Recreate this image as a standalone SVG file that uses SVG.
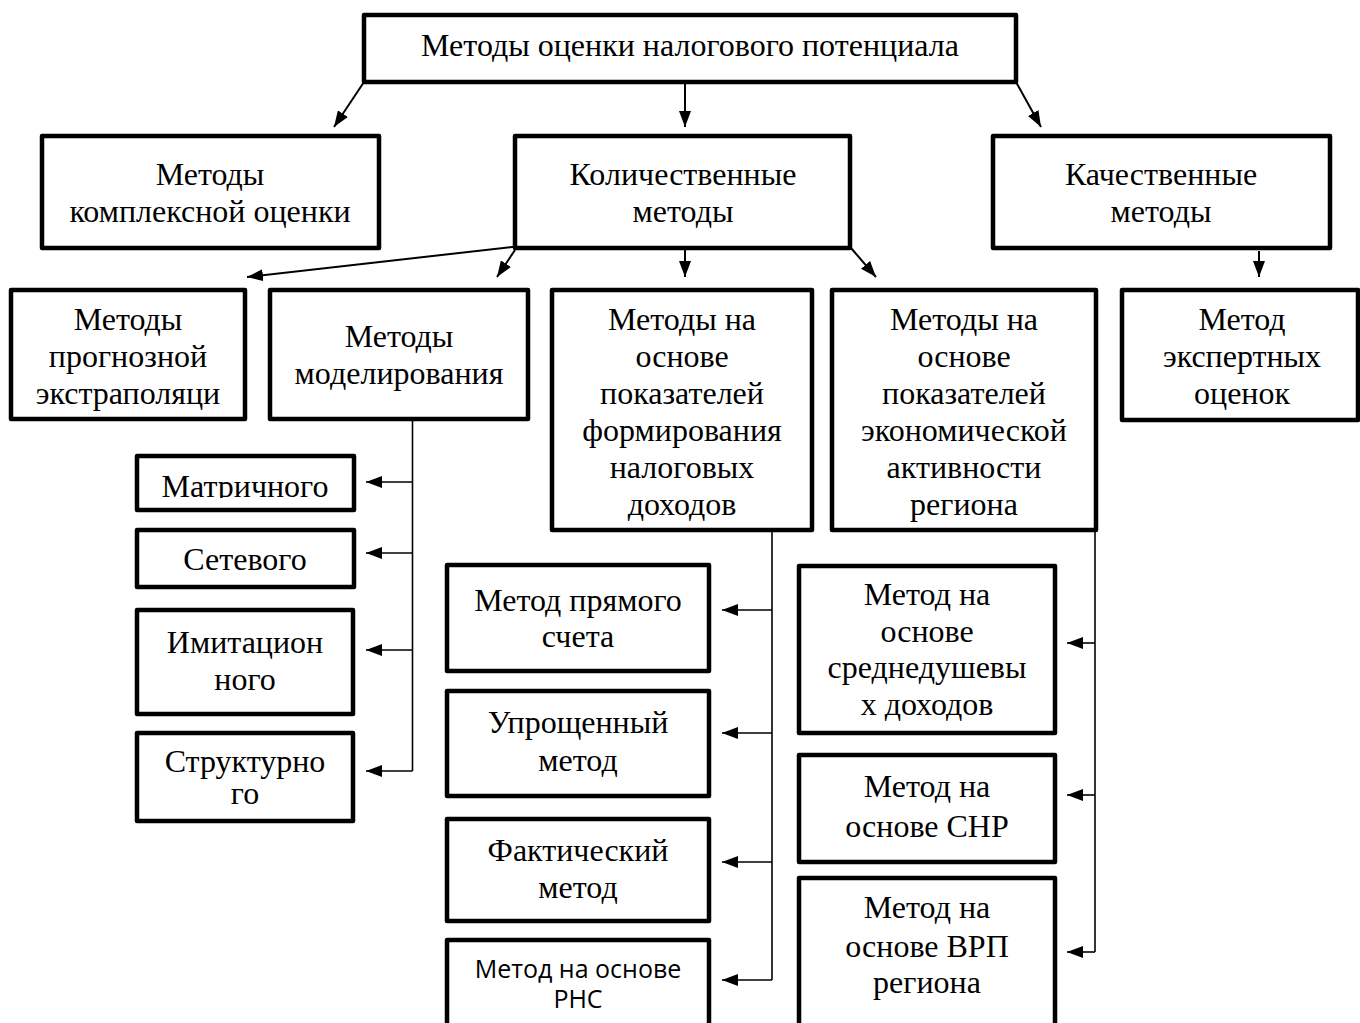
<svg xmlns="http://www.w3.org/2000/svg" width="1360" height="1023" viewBox="0 0 1360 1023">
<style>
.box{fill:#fff;stroke:#000;stroke-width:4.5;stroke-linejoin:round}
.t{font-family:"Liberation Serif","Times New Roman",serif;font-size:32px;fill:#000;text-anchor:middle}
.s{font-family:"Open Sans","Noto Sans",sans-serif;font-size:25px;fill:#000;text-anchor:middle}
.c{fill:none;stroke:#000;stroke-width:2}
.b{fill:none;stroke:#000;stroke-width:1.6}
</style>
<defs>
<marker id="ah" viewBox="0 0 16 12" refX="16" refY="6" markerWidth="16" markerHeight="12" markerUnits="userSpaceOnUse" orient="auto">
<path d="M0,0 L16,6 L0,12 z" fill="#000"/>
</marker>
<clipPath id="clipM"><rect x="130" y="450" width="230" height="48"/></clipPath>
</defs>
<rect width="1360" height="1023" fill="#fff"/>

<g id="connectors">
<line class="c" x1="364" y1="82" x2="334" y2="127" marker-end="url(#ah)"/>
<line class="c" x1="685" y1="84" x2="685" y2="127" marker-end="url(#ah)"/>
<line class="c" x1="1016" y1="82" x2="1041" y2="127" marker-end="url(#ah)"/>
<line class="c" x1="521" y1="246" x2="247" y2="277" marker-end="url(#ah)"/>
<line class="c" x1="515" y1="250" x2="497" y2="277" marker-end="url(#ah)"/>
<line class="c" x1="685" y1="250" x2="685" y2="277" marker-end="url(#ah)"/>
<line class="c" x1="851" y1="248" x2="876" y2="277" marker-end="url(#ah)"/>
<line class="c" x1="1259" y1="251" x2="1259" y2="277" marker-end="url(#ah)"/>
<path class="b" d="M412.5,420 V771"/>
<line class="b" x1="412.5" y1="482" x2="366" y2="482" marker-end="url(#ah)"/>
<line class="b" x1="412.5" y1="553" x2="366" y2="553" marker-end="url(#ah)"/>
<line class="b" x1="412.5" y1="650" x2="366" y2="650" marker-end="url(#ah)"/>
<line class="b" x1="412.5" y1="771" x2="366" y2="771" marker-end="url(#ah)"/>
<path class="b" d="M772,530 V980"/>
<line class="b" x1="772" y1="610" x2="722" y2="610" marker-end="url(#ah)"/>
<line class="b" x1="772" y1="733" x2="722" y2="733" marker-end="url(#ah)"/>
<line class="b" x1="772" y1="862" x2="722" y2="862" marker-end="url(#ah)"/>
<line class="b" x1="772" y1="980" x2="722" y2="980" marker-end="url(#ah)"/>
<path class="b" d="M1095,530 V952"/>
<line class="b" x1="1095" y1="643" x2="1067" y2="643" marker-end="url(#ah)"/>
<line class="b" x1="1095" y1="795" x2="1067" y2="795" marker-end="url(#ah)"/>
<line class="b" x1="1095" y1="952" x2="1067" y2="952" marker-end="url(#ah)"/>
</g>

<g id="root">
<rect class="box" x="364" y="15" width="652" height="67"/>
<text class="t" x="690" y="56">Методы оценки налогового потенциала</text>
</g>
<g id="complex">
<rect class="box" x="42" y="136" width="337" height="112"/>
<text class="t" x="210" y="185">Методы</text>
<text class="t" x="210" y="222">комплексной оценки</text>
</g>
<g id="quant">
<rect class="box" x="515" y="136" width="335" height="112"/>
<text class="t" x="683" y="185">Количественные</text>
<text class="t" x="683" y="222">методы</text>
</g>
<g id="qual">
<rect class="box" x="993" y="136" width="337" height="112"/>
<text class="t" x="1161" y="185">Качественные</text>
<text class="t" x="1161" y="222">методы</text>
</g>
<g id="extrap">
<rect class="box" x="11" y="290" width="234" height="129"/>
<text class="t" x="128" y="330">Методы</text>
<text class="t" x="128" y="367">прогнозной</text>
<text class="t" x="128" y="404">экстраполяци</text>
</g>
<g id="model">
<rect class="box" x="270" y="290" width="258" height="129"/>
<text class="t" x="399" y="347">Методы</text>
<text class="t" x="399" y="384">моделирования</text>
</g>
<g id="taxincome">
<rect class="box" x="552" y="290" width="260" height="240"/>
<text class="t" x="682" y="330">Методы на</text>
<text class="t" x="682" y="367">основе</text>
<text class="t" x="682" y="404">показателей</text>
<text class="t" x="682" y="441">формирования</text>
<text class="t" x="682" y="478">налоговых</text>
<text class="t" x="682" y="515">доходов</text>
</g>
<g id="econ">
<rect class="box" x="832" y="290" width="264" height="240"/>
<text class="t" x="964" y="330">Методы на</text>
<text class="t" x="964" y="367">основе</text>
<text class="t" x="964" y="404">показателей</text>
<text class="t" x="964" y="441">экономической</text>
<text class="t" x="964" y="478">активности</text>
<text class="t" x="964" y="515">региона</text>
</g>
<g id="expert">
<rect class="box" x="1122" y="290" width="236" height="130"/>
<text class="t" x="1242" y="330">Метод</text>
<text class="t" x="1242" y="367">экспертных</text>
<text class="t" x="1242" y="404">оценок</text>
</g>
<g id="matrix">
<rect class="box" x="137" y="456" width="217" height="54"/>
<text class="t" x="245" y="497" clip-path="url(#clipM)">Матричного</text>
</g>
<g id="network">
<rect class="box" x="137" y="530" width="217" height="57"/>
<text class="t" x="245" y="570">Сетевого</text>
</g>
<g id="imitation">
<rect class="box" x="137" y="610" width="216" height="104"/>
<text class="t" x="245" y="653">Имитацион</text>
<text class="t" x="245" y="690">ного</text>
</g>
<g id="structural">
<rect class="box" x="137" y="733" width="216" height="88"/>
<text class="t" x="245" y="772">Структурно</text>
<text class="t" x="245" y="804">го</text>
</g>
<g id="direct">
<rect class="box" x="447" y="565" width="262" height="106"/>
<text class="t" x="578" y="611">Метод прямого</text>
<text class="t" x="578" y="647">счета</text>
</g>
<g id="simplified">
<rect class="box" x="447" y="691" width="262" height="105"/>
<text class="t" x="578" y="733">Упрощенный</text>
<text class="t" x="578" y="771">метод</text>
</g>
<g id="actual">
<rect class="box" x="447" y="819" width="262" height="102"/>
<text class="t" x="578" y="861">Фактический</text>
<text class="t" x="578" y="898">метод</text>
</g>
<g id="rns">
<rect class="box" x="447" y="940" width="262" height="100"/>
<text class="s" x="578" y="978">Метод на основе</text>
<text class="s" x="578" y="1008">РНС</text>
</g>
<g id="percapita">
<rect class="box" x="799" y="566" width="256" height="167"/>
<text class="t" x="927" y="605">Метод на</text>
<text class="t" x="927" y="642">основе</text>
<text class="t" x="927" y="678">среднедушевы</text>
<text class="t" x="927" y="715">х доходов</text>
</g>
<g id="snr">
<rect class="box" x="799" y="755" width="256" height="107"/>
<text class="t" x="927" y="797">Метод на</text>
<text class="t" x="927" y="837">основе СНР</text>
</g>
<g id="vrp">
<rect class="box" x="799" y="878" width="256" height="160"/>
<text class="t" x="927" y="918">Метод на</text>
<text class="t" x="927" y="957">основе ВРП</text>
<text class="t" x="927" y="993">региона</text>
</g>
</svg>
